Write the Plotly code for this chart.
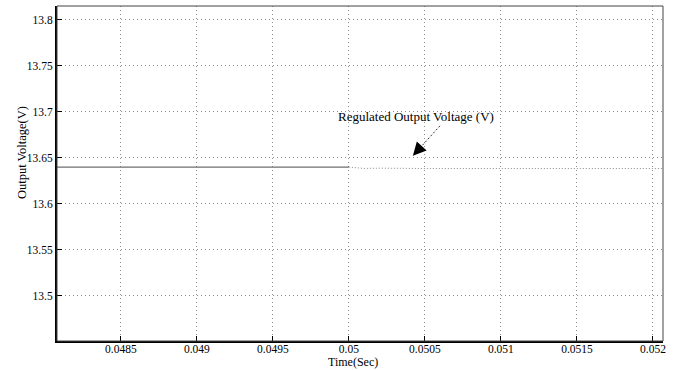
import plotly.graph_objects as go

# Data
t_before = [0.04808, 0.0500]
v_before = [13.640, 13.640]
t_after = [0.0500, 0.05005, 0.0501, 0.0502, 0.0503, 0.0505, 0.0510, 0.0520, 0.05207]
v_after = [13.640, 13.639, 13.6385, 13.6388, 13.6385, 13.6384, 13.6384, 13.6384, 13.6384]

x_ticks = [0.0485, 0.049, 0.0495, 0.05, 0.0505, 0.051, 0.0515, 0.052]
x_labels = ["0.0485", "0.049", "0.0495", "0.05", "0.0505", "0.051", "0.0515", "0.052"]
y_ticks = [13.5, 13.55, 13.6, 13.65, 13.7, 13.75, 13.8]
y_labels = ["13.5", "13.55", "13.6", "13.65", "13.7", "13.75", "13.8"]

label_text = "Regulated Output Voltage (V)"
label_pos = (0.050444, 13.6946)
arrow_tail = (0.050599, 13.6848)
arrow_tip = (0.050421, 13.6522)

x_title = "Time(Sec)"
y_title = "Output Voltage(V)"

font = "Liberation Serif"

fig = go.Figure()
fig.add_trace(go.Scatter(x=t_before, y=v_before, mode="lines",
                         line=dict(color="#6e6e6e", width=1.2), showlegend=False))
fig.add_trace(go.Scatter(x=t_after, y=v_after, mode="lines",
                         line=dict(color="#8a8a8a", width=1, dash="1px,2px"), showlegend=False))

# dotted arrow shaft
fig.add_shape(type="line", xref="x", yref="y",
              x0=arrow_tail[0], y0=arrow_tail[1], x1=arrow_tip[0], y1=arrow_tip[1],
              line=dict(color="#333333", width=1, dash="2px,2px"))
# arrow head
fig.add_annotation(x=arrow_tip[0], y=arrow_tip[1], ax=9, ay=-10,
                   xref="x", yref="y", axref="pixel", ayref="pixel",
                   text="", showarrow=True, arrowhead=2, arrowsize=2.2,
                   arrowwidth=1.2, arrowcolor="black", standoff=0)
fig.add_annotation(x=label_pos[0], y=label_pos[1], xref="x", yref="y",
                   text=label_text, showarrow=False,
                   font=dict(family=font, size=13, color="black"))

# axis titles
fig.add_annotation(x=0.488, y=-0.0866, xref="paper", yref="paper",
                   text=x_title, showarrow=False, yanchor="bottom", borderpad=0,
                   font=dict(family=font, size=12, color="black"))
fig.add_annotation(x=-0.0726, y=0.561, xref="paper", yref="paper",
                   text=y_title, showarrow=False, textangle=-90,
                   font=dict(family=font, size=12.5, color="black"))

fig.add_shape(type="rect", xref="paper", yref="paper", x0=0, y0=0, x1=1, y1=1,
              line=dict(color="#444444", width=1), layer="above")

fig.update_layout(
    width=682, height=370,
    margin=dict(l=57, r=19, t=6, b=29),
    paper_bgcolor="white", plot_bgcolor="white",
    font=dict(family=font, size=11, color="black"),
)
fig.update_xaxes(
    range=[0.04808, 0.052066], tickvals=x_ticks, ticktext=x_labels,
    showgrid=True, gridcolor="#8c8c8c", griddash="1px,3px", gridwidth=1,
    ticks="inside", ticklen=5, tickcolor="black",
    showline=True, linecolor="black", linewidth=2,
    zeroline=False, ticklabelstandoff=-4,
    tickfont=dict(family=font, size=11.5),
)
fig.update_yaxes(
    range=[13.451, 13.815], tickvals=y_ticks, ticktext=y_labels,
    showgrid=True, gridcolor="#8c8c8c", griddash="1px,3px", gridwidth=1,
    ticks="inside", ticklen=5, tickcolor="black",
    showline=True, linecolor="black", linewidth=2,
    zeroline=False,
    tickfont=dict(family=font, size=11.5),
)

fig.write_html("out.html", config={"displayModeBar": False},
               post_script="document.body.style.margin='0';")
